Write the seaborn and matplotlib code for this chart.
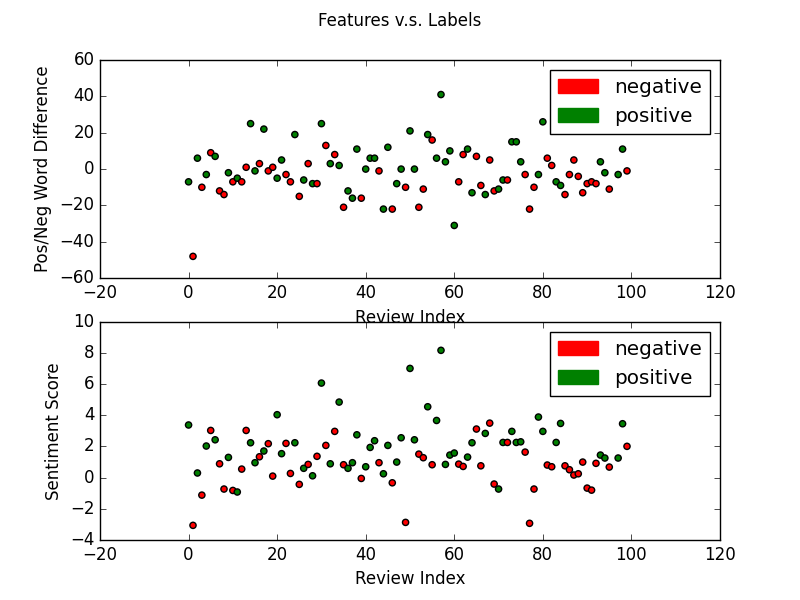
import pandas as pd
import matplotlib
matplotlib.use('Agg')
import matplotlib.pyplot as plt
import matplotlib.patches as mpatches
import seaborn as sns

# ── Data ──────────────────────────────────────────────────────
review_idx = list(range(100))

word_diff = [
    -7, -48, 6, -10, -3, 9, 7, -12, -14, -2,
    -7, -5, -7, 1, 25, -1, 3, 22, -1, 1,
    -5, 5, -3, -7, 19, -15, -6, 3, -8, -8,
    25, 13, 3, 8, 2, -21, -12, -16, 11, -16,
    0, 6, 6, -1, -22, 12, -22, -8, 0, -10,
    21, 0, -21, -11, 19, 16, 6, 41, 4, 10,
    -31, -7, 8, 11, -13, 7, -9, -14, 5, -12,
    -11, -6, -6, 15, 15, 4, -3, -22, -10, -3,
    26, 6, 2, -7, -9, -14, -3, 5, -4, -13,
    -8, -7, -8, 4, -2, -11, 33, -3, 11, -1,
]

sentiment = [
    3.38, -3.06, 0.30, -1.12, 2.03, 3.03, 2.43, 0.89, -0.73, 1.30,
    -0.82, -0.92, 0.55, 3.03, 2.24, 0.96, 1.34, 1.71, 2.18, 0.10,
    4.04, 1.54, 2.20, 0.27, 2.24, -0.43, 0.60, 0.85, 0.12, 1.37,
    6.07, 2.07, 0.89, 2.97, 4.85, 0.83, 0.60, 0.96, 2.75, -0.05,
    0.70, 1.94, 2.37, 0.96, 0.25, 2.07, -0.33, 1.00, 2.56, -2.87,
    7.01, 2.43, 1.51, 1.28, 4.55, 0.83, 3.67, 8.17, 0.85, 1.45,
    1.58, 0.87, 0.72, 1.32, 2.24, 3.12, 0.76, 2.84, 3.50, -0.41,
    -0.73, 2.26, 2.26, 2.97, 2.26, 2.30, 1.64, -2.93, -0.73, 3.89,
    2.97, 0.81, 0.70, 2.26, 3.48, 0.76, 0.51, 0.17, 0.25, 1.00,
    -0.67, -0.80, 0.92, 1.45, 1.26, 0.68, 6.50, 1.26, 3.46, 2.01,
]

# 0 = negative, 1 = positive
labels = [
    1, 0, 1, 0, 1, 0, 1, 0, 0, 1,
    0, 1, 0, 0, 1, 1, 0, 1, 0, 0,
    1, 1, 0, 0, 1, 0, 1, 0, 1, 0,
    1, 0, 1, 0, 1, 0, 1, 1, 1, 0,
    1, 1, 1, 0, 1, 1, 0, 1, 1, 0,
    1, 1, 0, 0, 1, 0, 1, 1, 1, 1,
    1, 0, 0, 1, 1, 0, 0, 1, 0, 0,
    1, 1, 0, 1, 1, 1, 0, 0, 0, 1,
    1, 0, 0, 1, 1, 0, 0, 0, 0, 0,
    0, 0, 0, 1, 1, 0, 1, 1, 1, 0,
]

label_names = ['negative', 'positive']
label_colors = {'negative': 'r', 'positive': 'g'}

df = pd.DataFrame({
    'idx': review_idx,
    'word_diff': word_diff,
    'sentiment': sentiment,
    'label': [label_names[l] for l in labels],
})

# ── Style: old matplotlib look ────────────────────────────────
plt.style.use('classic')

fig, axes = plt.subplots(2, 1, figsize=(8, 6))
fig.suptitle('Features v.s. Labels')

handles = [mpatches.Patch(color=label_colors[n], label=n) for n in label_names]

panels = [
    ('word_diff', 'Pos/Neg Word Difference', (-60, 60)),
    ('sentiment', 'Sentiment Score', (-4, 10)),
]
for ax, (col, ylabel, ylim) in zip(axes, panels):
    sns.scatterplot(data=df, x='idx', y=col, hue='label', palette=label_colors,
                    hue_order=label_names, edgecolor='black', linewidth=1,
                    s=20, legend=False, ax=ax)
    ax.set_xlim(-20, 120)
    ax.set_ylim(*ylim)
    ax.set_xlabel('Review Index')
    ax.set_ylabel(ylabel)
    ax.legend(handles=handles, loc='upper right')

plt.savefig('out.png', dpi=100)
